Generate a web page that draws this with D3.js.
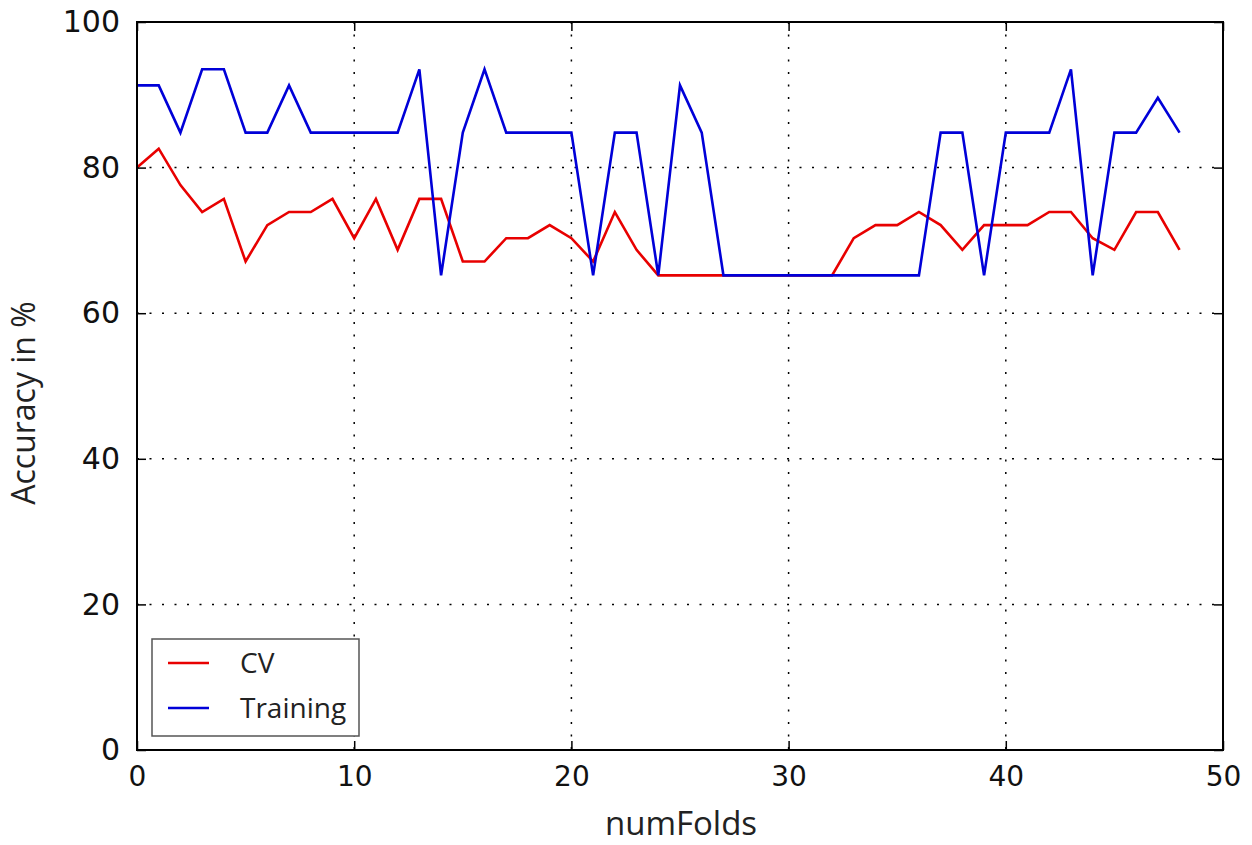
<!DOCTYPE html>
<meta charset="utf-8">
<head>
    <title>Accuracy vs numFolds</title>
    <style>
        body { margin: 0; background: #fff; }
        .tick text { font-family: "DejaVu Sans", sans-serif; fill: #111; }
    </style>
</head>
<body>
    <script src="https://d3js.org/d3.v7.min.js"></script>
    <div id="my_dataviz"></div>
<script>

    // values
    var cv = [80.0, 82.6, 77.6, 73.9, 75.7, 67.1, 72.1, 73.9, 73.9, 75.7,
              70.3, 75.7, 68.7, 75.7, 75.7, 67.1, 67.1, 70.3, 70.3, 72.1,
              70.3, 67.1, 73.9, 68.7, 65.2, 65.2, 65.2, 65.2, 65.2, 65.2,
              65.2, 65.2, 65.2, 70.3, 72.1, 72.1, 73.9, 72.1, 68.7, 72.1,
              72.1, 72.1, 73.9, 73.9, 70.3, 68.7, 73.9, 73.9, 68.7]
    var training = [91.3, 91.3, 84.8, 93.5, 93.5, 84.8, 84.8, 91.3, 84.8, 84.8,
                    84.8, 84.8, 84.8, 93.5, 65.2, 84.8, 93.5, 84.8, 84.8, 84.8,
                    84.8, 65.2, 84.8, 84.8, 65.2, 91.3, 84.8, 65.2, 65.2, 65.2,
                    65.2, 65.2, 65.2, 65.2, 65.2, 65.2, 65.2, 84.8, 84.8, 65.2,
                    84.8, 84.8, 84.8, 93.5, 65.2, 84.8, 84.8, 89.6, 84.8]
    var xTicks = [0, 10, 20, 30, 40, 50]
    var yTicks = [0, 20, 40, 60, 80, 100]
    var seriesNames = ["CV", "Training"]

    var margin = {top: 22, right: 29, bottom: 95, left: 137},
        width = 1252 - margin.left - margin.right,
        height = 845 - margin.top - margin.bottom;

    var svg = d3.select("#my_dataviz")
        .append("svg")
        .attr("width", 1252)
        .attr("height", 845)
      .append("g")
        .attr("transform", "translate(" + margin.left + "," + margin.top + ")");

    var x = d3.scaleLinear().domain([0, 50]).range([0, width]);
    var y = d3.scaleLinear().domain([0, 100]).range([height, 0]);

    // grid (dotted)
    svg.append("g")
        .selectAll("line")
        .data(xTicks.slice(1, -1))
        .enter().append("line")
        .attr("x1", function(d) { return x(d) }).attr("x2", function(d) { return x(d) })
        .attr("y1", 0).attr("y2", height)
        .style("stroke", "#000").style("stroke-width", 1.5)
        .style("stroke-dasharray", "2,10.5");
    svg.append("g")
        .selectAll("line")
        .data(yTicks.slice(1, -1))
        .enter().append("line")
        .attr("y1", function(d) { return y(d) }).attr("y2", function(d) { return y(d) })
        .attr("x1", 0).attr("x2", width)
        .style("stroke", "#000").style("stroke-width", 1.5)
        .style("stroke-dasharray", "2,10.5");

    // lines
    var line = d3.line()
        .x(function(d, i) { return x(i) })
        .y(function(d) { return y(d) });

    svg.append("path")
        .datum(cv)
        .attr("d", line)
        .style("fill", "none").style("stroke", "#e80000").style("stroke-width", 2.6);
    svg.append("path")
        .datum(training)
        .attr("d", line)
        .style("fill", "none").style("stroke", "#0000d8").style("stroke-width", 2.6);

    // axes, ticks pointing inwards
    var xAxis = svg.append("g")
        .attr("transform", "translate(0," + height + ")")
        .call(d3.axisBottom(x).tickValues(xTicks).tickSizeInner(-9).tickSizeOuter(0).tickPadding(16));
    xAxis.selectAll("text").style("font-size", "28px");
    svg.append("g")
        .call(d3.axisTop(x).tickValues(xTicks).tickSizeInner(-9).tickSizeOuter(0).tickFormat(""));
    var yAxis = svg.append("g")
        .call(d3.axisLeft(y).tickValues(yTicks).tickSizeInner(-9).tickSizeOuter(0).tickPadding(17));
    yAxis.selectAll("text").style("font-size", "30px");
    svg.append("g")
        .attr("transform", "translate(" + width + ",0)")
        .call(d3.axisRight(y).tickValues(yTicks).tickSizeInner(-9).tickSizeOuter(0).tickFormat(""));
    svg.selectAll(".domain").remove();
    svg.selectAll(".tick line").style("stroke", "#000").style("stroke-width", 1.5);

    // frame
    svg.append("rect")
        .attr("width", width).attr("height", height)
        .style("fill", "none").style("stroke", "#000").style("stroke-width", 2);

    // axis titles
    svg.append("text")
        .attr("x", width / 2 + 1)
        .attr("y", height + 85)
        .style("text-anchor", "middle")
        .style("font-family", "'Open Sans', sans-serif")
        .style("font-size", "33px")
        .style("fill", "#222")
        .text("numFolds");
    svg.append("text")
        .attr("transform", "rotate(-90)")
        .attr("x", -height / 2 - 17)
        .attr("y", 35 - margin.left)
        .style("text-anchor", "middle")
        .style("font-family", "'Open Sans', sans-serif")
        .style("font-size", "32px")
        .style("fill", "#222")
        .text("Accuracy in %");

    // legend
    var colors = ["#e80000", "#0000d8"];
    var legend = svg.append("g").attr("transform", "translate(15,617)");
    legend.append("rect")
        .attr("width", 207).attr("height", 97)
        .style("fill", "#fff").style("stroke", "#555").style("stroke-width", 1.5);
    seriesNames.forEach(function(name, i) {
        legend.append("line")
            .attr("x1", 16).attr("x2", 57)
            .attr("y1", 24 + i * 45).attr("y2", 24 + i * 45)
            .style("stroke", colors[i]).style("stroke-width", 2.6);
        legend.append("text")
            .attr("x", 88).attr("y", 34 + i * 45)
            .style("font-family", "'Open Sans', sans-serif")
            .style("font-size", "28px")
            .style("fill", "#222")
            .text(name);
    });

</script>
</body>
